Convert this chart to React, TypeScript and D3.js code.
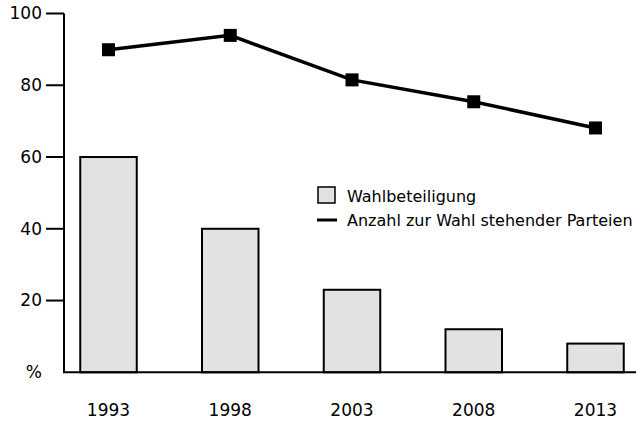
import React from "react";
import * as d3 from "d3";

const years = ["1993", "1998", "2003", "2008", "2013"];
const turnout = [60, 40, 23, 12, 8];
const parties = [89.9, 93.9, 81.5, 75.4, 68.1];
const yTicks = [20, 40, 60, 80, 100];
const legendLabels = ["Wahlbeteiligung", "Anzahl zur Wahl stehender Parteien"];

export default function App() {
  const W = 638, H = 421;
  const x = d3.scalePoint<string>().domain(years).range([108.5, 595.5]);
  const y = d3.scaleLinear().domain([0, 100]).range([372.3, 13.5]);
  const barW = 56.5;
  const font = "DejaVu Sans, Verdana, sans-serif";
  const line = d3.line<number>().x((_, i) => x(years[i])!).y((d) => y(d));
  const ms = 13;
  return (
    <svg width={W} height={H} style={{ position: "absolute", left: 0, top: 0 }} fontFamily={font}>
      <rect width={W} height={H} fill="#fff" />
      {turnout.map((v, i) => (
        <rect key={i} x={x(years[i])! - barW / 2} y={y(v)} width={barW} height={y(0) - y(v)}
          fill="#e2e2e2" stroke="#000" strokeWidth={2} />
      ))}
      <line x1={64} x2={64} y1={y(100)} y2={y(0)} stroke="#000" strokeWidth={2} />
      <line x1={63} x2={636} y1={y(0)} y2={y(0)} stroke="#000" strokeWidth={2} />
      {yTicks.map((t) => (
        <g key={t}>
          <line x1={46} x2={64} y1={y(t)} y2={y(t)} stroke="#000" strokeWidth={2} />
          <text x={42} y={y(t)} dy="0.35em" textAnchor="end" fontSize={17}>{t}</text>
        </g>
      ))}
      <text x={42} y={y(0)} dy="0.35em" textAnchor="end" fontSize={17}>%</text>
      {years.map((yr) => (
        <text key={yr} x={x(yr)} y={416} textAnchor="middle" fontSize={17}>{yr}</text>
      ))}
      <path d={line(parties)!} fill="none" stroke="#000" strokeWidth={3.5} />
      {parties.map((v, i) => (
        <rect key={i} x={x(years[i])! - ms / 2} y={y(v) - ms / 2} width={ms} height={ms} fill="#000" />
      ))}
      <rect x={318} y={187} width={17} height={16} fill="#e2e2e2" stroke="#000" strokeWidth={1.5} />
      <text x={347} y={202} fontSize={16}>{legendLabels[0]}</text>
      <line x1={317} x2={337} y1={220} y2={220} stroke="#000" strokeWidth={3} />
      <text x={347} y={225.5} fontSize={16}>{legendLabels[1]}</text>
    </svg>
  );
}
